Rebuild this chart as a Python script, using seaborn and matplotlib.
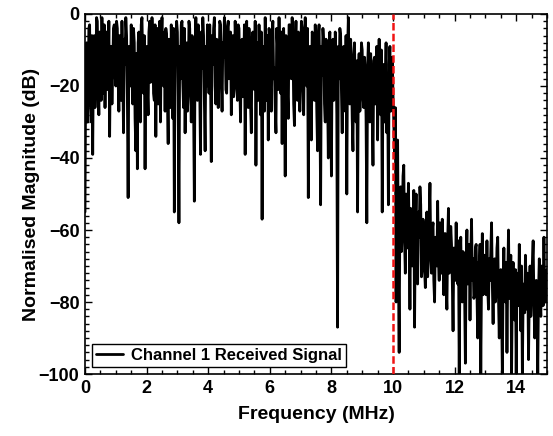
import numpy as np
import pandas as pd
import matplotlib
matplotlib.use("Agg")
import matplotlib.pyplot as plt
from matplotlib.ticker import MultipleLocator
import seaborn as sns

# Magnitude (dB).
# seg_XX: samples at k + 0.05*i MHz ; mid_XX: samples half-way between them (k + 0.025 + 0.05*i)
seg_00 = [-55, -8, -24, -3, -30, -39, -6, -20, -2, -28, -12, -1, -22, -26, -5, -18, -34, -9, -15, -3]
mid_00 = [-12, -30, -4, -22, -6, -10, -26, -1, -19, -5, -24, -16, -3, -7, -21, -2, -11, -25, -4, -17]
seg_01 = [-20, -4, -27, -10, -2, -33, -14, -6, -51, -12, -3, -25, -8, -38, -43, -5, -30, -1, -22, -43]
mid_01 = [-2, -18, -6, -24, -15, -7, -1, -23, -9, -20, -17, -4, -29, -11, -8, -20, -3, -14, -6, -12]
seg_02 = [-9, -28, -2, -16, -7, -24, -34, -4, -12, -30, -1, -20, -27, -6, -36, -10, -3, -29, -55, -14]
mid_02 = [-21, -5, -19, -1, -22, -3, -8, -25, -2, -9, -18, -5, -4, -23, -7, -26, -15, -4, -10, -2]
seg_03 = [-5, -58, -18, -2, -26, -33, -8, -22, -4, -30, -12, -52, -1, -24, -7, -39, -15, -6, -38, -20]
mid_03 = [-23, -9, -3, -19, -4, -10, -27, -2, -18, -6, -25, -8, -17, -3, -21, -5, -1, -24, -9, -3]
seg_04 = [-10, -3, -41, -14, -1, -25, -8, -19, -3, -27, -12, -5, -22, -2, -16, -28, -6, -20, -9, -24]
mid_04 = [-22, -17, -6, -4, -20, -7, -26, -2, -15, -8, -1, -21, -4, -18, -5, -9, -23, -2, -19, -3]
seg_05 = [-4, -30, -7, -18, -39, -2, -26, -11, -33, -5, -21, -42, -8, -3, -28, -57, -13, -1, -24, -35]
mid_05 = [-19, -8, -23, -3, -6, -20, -4, -25, -7, -18, -2, -10, -24, -16, -5, -9, -27, -15, -6, -4]
seg_06 = [-6, -27, -2, -15, -33, -9, -1, -22, -36, -4, -45, -12, -29, -3, -18, -7, -31, -2, -24, -10]
mid_06 = [-20, -5, -18, -26, -4, -21, -16, -5, -8, -19, -6, -22, -3, -17, -1, -25, -9, -20, -5, -27]
seg_07 = [-14, -4, -28, -1, -20, -51, -9, -35, -6, -24, -13, -38, -3, -53, -17, -8, -30, -11, -40, -5]
mid_07 = [-2, -21, -7, -17, -4, -12, -26, -5, -20, -3, -27, -6, -23, -9, -4, -25, -7, -22, -8, -19]
seg_08 = [-45, -7, -22, -12, -87, -18, -6, -33, -9, -27, -50, -1, -25, -14, -38, -8, -30, -55, -11, -21]
mid_08 = [-10, -24, -5, -28, -9, -4, -21, -11, -26, -6, -10, -19, -7, -29, -12, -22, -13, -17, -27, -8]
seg_09 = [-10, -26, -16, -58, -8, -30, -19, -42, -12, -24, -35, -7, -28, -55, -14, -20, -33, -53, -9, -25]
mid_09 = [-23, -12, -29, -15, -22, -11, -27, -13, -25, -9, -16, -21, -10, -18, -30, -8, -17, -14, -27, -12]
seg_10 = [-22, -40, -80, -35, -94, -48, -60, -42, -72, -55, -47, -82, -58, -68, -87, -50, -75, -62, -53, -70]
mid_10 = [-30, -26, -45, -70, -52, -66, -45, -63, -50, -65, -60, -54, -70, -49, -58, -64, -55, -48, -73, -57]
seg_11 = [-60, -76, -55, -68, -47, -72, -58, -80, -63, -52, -74, -66, -57, -78, -61, -82, -54, -70, -64, -88]
mid_11 = [-71, -59, -73, -56, -65, -60, -74, -62, -70, -68, -58, -72, -69, -61, -75, -63, -72, -59, -74, -65]
seg_12 = [-66, -58, -75, -100, -62, -80, -70, -97, -60, -73, -85, -57, -68, -78, -64, -90, -72, -100, -61, -76]
mid_12 = [-74, -71, -63, -70, -76, -66, -78, -68, -75, -64, -67, -74, -79, -65, -77, -69, -64, -73, -78, -67]
seg_13 = [-70, -63, -82, -74, -58, -86, -68, -77, -62, -90, -71, -100, -65, -80, -94, -60, -76, -100, -69, -85]
mid_13 = [-78, -76, -68, -66, -75, -70, -80, -65, -79, -72, -81, -74, -77, -69, -73, -79, -67, -75, -80, -71]
seg_14 = [-100, -72, -64, -88, -100, -75, -67, -82, -96, -70, -78, -63, -90, -74, -100, -68, -84, -73, -62, -80, -71]
mid_14 = [-73, -81, -77, -70, -79, -83, -76, -72, -78, -84, -69, -79, -75, -82, -77, -80, -70, -81, -77, -74]

main_samples = (seg_00 + seg_01 + seg_02 + seg_03 + seg_04 + seg_05 + seg_06 + seg_07
                + seg_08 + seg_09 + seg_10 + seg_11 + seg_12 + seg_13 + seg_14)
mid_samples = (mid_00 + mid_01 + mid_02 + mid_03 + mid_04 + mid_05 + mid_06 + mid_07
               + mid_08 + mid_09 + mid_10 + mid_11 + mid_12 + mid_13 + mid_14)

magnitude = np.empty(len(main_samples) + len(mid_samples))
magnitude[0::2] = main_samples
magnitude[1::2] = mid_samples
freq_step = 0.025
frequency = np.round(np.arange(len(magnitude)) * freq_step, 4)

cutoff_freq = 10.0
series_label = "Channel 1 Received Signal"
x_label = "Frequency (MHz)"
y_label = "Normalised Magnitude (dB)"
x_ticks = [0, 2, 4, 6, 8, 10, 12, 14]
y_ticks = [-100, -80, -60, -40, -20, 0]

df = pd.DataFrame({"freq": frequency, "mag": magnitude})

sns.set_theme(style="ticks")
plt.rcParams["font.family"] = ["Liberation Sans", "DejaVu Sans"]
plt.rcParams["font.weight"] = "bold"
for k in ["text.color", "axes.labelcolor", "xtick.color", "ytick.color", "axes.edgecolor"]:
    plt.rcParams[k] = "black"

fig = plt.figure(figsize=(5.53, 4.36), dpi=100)
ax = fig.add_axes([85 / 553, 1 - 374 / 436, (547 - 85) / 553, (374 - 14) / 436])

sns.lineplot(data=df, x="freq", y="mag", ax=ax, color="black", linewidth=2.0,
             estimator=None, sort=False, label=series_label)
ax.axvline(cutoff_freq, color="#f01414", linestyle=(0, (3.0, 1.3)), linewidth=1.8, zorder=3)

ax.set_xlim(0, 15)
ax.set_ylim(-100, 0)
ax.set_xticks(x_ticks)
ax.set_yticks(y_ticks)
ax.xaxis.set_minor_locator(MultipleLocator(0.5))
ax.yaxis.set_minor_locator(MultipleLocator(2))
ax.tick_params(which="both", direction="in", top=True, right=True, width=1, color="black")
ax.tick_params(which="major", length=5, labelsize=13, pad=4, labelcolor="black")
ax.tick_params(which="minor", length=3)
for lbl in ax.get_xticklabels() + ax.get_yticklabels():
    lbl.set_fontweight("bold")
for sp in ax.spines.values():
    sp.set_linewidth(1.2)
    sp.set_color("black")

ax.set_xlabel(x_label, fontsize=14, fontweight="bold", labelpad=7, color="black")
ax.set_ylabel(y_label, fontsize=14, fontweight="bold", labelpad=-1, color="black")

leg = ax.legend(loc="lower left", fontsize=12, frameon=True, fancybox=False,
                edgecolor="black", framealpha=1, borderaxespad=0.4,
                handlelength=1.6, handletextpad=0.5, borderpad=0.25)
leg.get_frame().set_linewidth(1.0)
for t in leg.get_texts():
    t.set_fontweight("bold")
    t.set_color("black")
for h in leg.get_lines():
    h.set_linewidth(2)

fig.savefig("out.png", dpi=100)
